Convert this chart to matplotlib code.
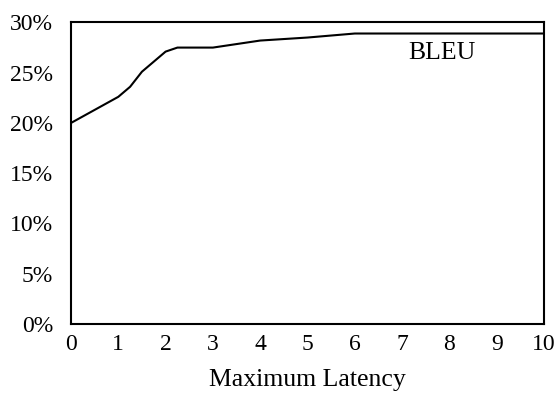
import matplotlib
matplotlib.use("Agg")
import matplotlib.pyplot as plt
from matplotlib.ticker import FuncFormatter

latency = [0, 1, 1.25, 1.5, 2, 2.25, 3, 4, 5, 6, 7, 8, 9, 10]
bleu = [20.0, 22.6, 23.6, 25.1, 27.1, 27.5, 27.5, 28.2, 28.5, 28.9, 28.9, 28.9, 28.9, 28.9]
xticks = list(range(0, 11))
yticks = [0, 5, 10, 15, 20, 25, 30]

plt.rcParams['font.family'] = ['Liberation Serif', 'DejaVu Serif']

fig = plt.figure(figsize=(5.58, 3.94), dpi=100)
ax = fig.add_axes([0.1272, 0.1777, 0.975 - 0.1272, 0.943 - 0.1777])
ax.plot(latency, bleu, color='black', linewidth=1.5)
ax.set_xlim(0, 10)
ax.set_ylim(0, 30)
ax.set_xticks(xticks)
ax.set_yticks(yticks)
ax.yaxis.set_major_formatter(FuncFormatter(lambda v, p: f"{int(v)}%"))
ax.tick_params(length=0, labelsize=17)
ax.tick_params(axis='y', pad=13)
ax.tick_params(axis='x', pad=7)
for s in ax.spines.values():
    s.set_linewidth(1.5)
ax.set_xlabel("Maximum Latency", fontsize=18.5, labelpad=10)
ax.text(7.85, 27.0, "BLEU", fontsize=18.5, ha='center', va='center')
fig.savefig("out.png", dpi=100)
